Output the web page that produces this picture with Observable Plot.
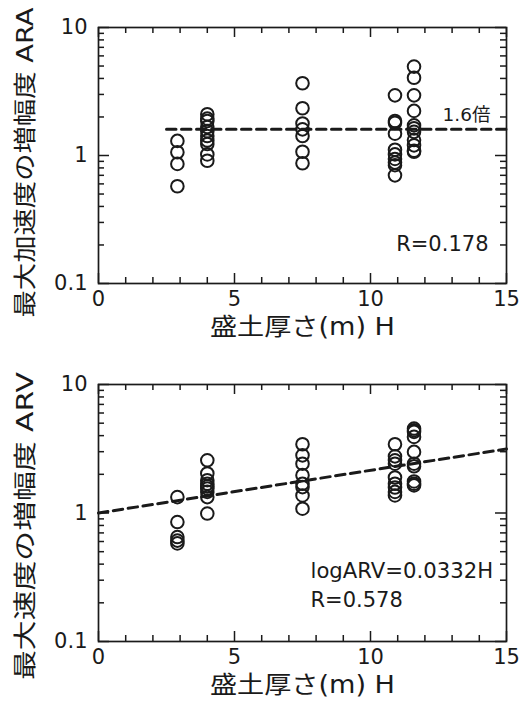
<!DOCTYPE html>
<html><head><meta charset="utf-8">
<script src="https://cdn.jsdelivr.net/npm/d3@7"></script>
<script src="https://cdn.jsdelivr.net/npm/@observablehq/plot@0.6"></script>
<style>body{margin:0;background:#fff;} #c svg{display:block;}</style>
</head><body><div id="c"></div>
<script>
// ---- data ----
const depthH = [2.9, 4.0, 7.5, 10.9, 11.6];
const araGroups = [
  [1.30, 1.06, 0.86, 0.575],
  [2.10, 1.94, 1.86, 1.67, 1.55, 1.42, 1.31, 1.23, 1.02, 0.91],
  [3.67, 2.34, 1.78, 1.60, 1.42, 1.07, 0.87],
  [2.95, 1.86, 1.80, 1.48, 1.11, 1.02, 0.94, 0.88, 0.84, 0.70],
  [4.95, 4.05, 2.95, 2.23, 1.72, 1.63, 1.53, 1.32, 1.20, 1.09, 1.07]
];
const arvGroups = [
  [1.33, 0.85, 0.65, 0.61, 0.58],
  [2.57, 2.03, 1.80, 1.69, 1.61, 1.55, 1.46, 1.33, 0.99],
  [3.43, 2.81, 2.42, 1.97, 1.69, 1.59, 1.37, 1.08],
  [3.43, 2.76, 2.57, 2.42, 1.89, 1.69, 1.58, 1.46, 1.37],
  [4.54, 4.41, 4.28, 3.91, 2.99, 2.42, 2.31, 1.76, 1.69, 1.64]
];
const araLineH = [2.5, 15];
const araLineV = [1.6, 1.6];
const arvLineH = [0, 15];
const arvLineV = [1.0, 3.15];
const xMajor = [0, 5, 10, 15];
const xMinor = [1,2,3,4,6,7,8,9,11,12,13,14];
const xTickLabels = ["0", "5", "10", "15"];
const yMajor = [0.1, 1, 10];
const yMinor = [0.2,0.3,0.4,0.5,0.6,0.7,0.8,0.9,2,3,4,5,6,7,8,9];
const yTickLabels = ["0.1", "1", "10"];
const xLabel = "盛土厚さ(m) H";
const araLabel = "最大加速度の増幅度 ARA";
const arvLabel = "最大速度の増幅度 ARV";

const FONT = "'DejaVu Sans', 'Noto Sans CJK JP', sans-serif";
const INK = "#1a1a1a";
const W = 527, ML = 98, MR = 21;

function panel({groups, lineH, lineV, yLabel, height, marginTop, marginBottom, yLabelDy, notes, yLabelLen}) {
  const pts = groups.flatMap((g, i) => g.map(v => ({H: depthH[i], v})));
  const line = lineH.map((h, i) => ({H: h, v: lineV[i]}));
  const fw = W - ML - MR, fh = height - marginTop - marginBottom;
  const tk = {stroke: INK, strokeWidth: 1.5};
  const svg = Plot.plot({
    width: W, height, marginTop, marginBottom, marginLeft: ML, marginRight: MR,
    style: {fontFamily: FONT, color: INK, background: "#fff", overflow: "visible", fontSize: "21px"},
    x: {domain: [0, 15], axis: "bottom", label: null, ticks: xMajor, tickSize: 0, tickPadding: 8,
        tickFormat: d => xTickLabels[xMajor.indexOf(d)]},
    y: {type: "log", domain: [0.1, 10], axis: "left", label: null, ticks: yMajor, tickSize: 0, tickPadding: 11,
        tickFormat: d => yTickLabels[yMajor.indexOf(d)]},
    marks: [
      Plot.line(line, {x: "H", y: "v", stroke: INK, strokeWidth: 3, strokeDasharray: "9.5,5.5"}),
      Plot.dot(pts, {x: "H", y: "v", r: 6.3, stroke: INK, strokeWidth: 2, fill: "none"}),
      Plot.tickX(xMajor, {x: d => d, insetTop: fh - 10, ...tk}),
      Plot.tickX(xMajor, {x: d => d, insetBottom: fh - 10, ...tk}),
      Plot.tickX(xMinor, {x: d => d, insetTop: fh - 6, ...tk}),
      Plot.tickX(xMinor, {x: d => d, insetBottom: fh - 6, ...tk}),
      Plot.tickY(yMajor, {y: d => d, insetRight: fw - 11, ...tk}),
      Plot.tickY(yMajor, {y: d => d, insetLeft: fw - 11, ...tk}),
      Plot.tickY(yMinor, {y: d => d, insetRight: fw - 6, ...tk}),
      Plot.tickY(yMinor, {y: d => d, insetLeft: fw - 6, ...tk}),
      Plot.frame({stroke: INK, strokeWidth: 1.7}),
      Plot.text([xLabel], {text: d => d, frameAnchor: "bottom", textAnchor: "middle", dy: 51, fontSize: 24, fill: INK}),
      Plot.text([yLabel], {text: d => d, frameAnchor: "left", textAnchor: "middle", dx: -73, dy: yLabelDy,
        rotate: -90, fontSize: 23, fill: INK}),
      ...notes.map(n => Plot.text([n.text], {text: d => d, frameAnchor: n.anchor, dx: n.dx, dy: n.dy,
        textAnchor: n.textAnchor, fontSize: n.size, fill: INK}))
    ]
  });
  d3.select(svg).selectAll("text").each(function() {
    if (this.textContent === xLabel) { this.setAttribute("textLength", 185); this.setAttribute("lengthAdjust", "spacingAndGlyphs"); }
    if (this.textContent === yLabel) { this.setAttribute("textLength", yLabelLen); this.setAttribute("lengthAdjust", "spacingAndGlyphs"); }
  });
  return svg;
}

const c = document.getElementById("c");
c.appendChild(panel({
  groups: araGroups, lineH: araLineH, lineV: araLineV, yLabel: araLabel,
  height: 350, marginTop: 27, marginBottom: 67, yLabelDy: 7, yLabelLen: 310,
  notes: [
    {text: "1.6倍", anchor: "top-right", dx: -16, dy: 80, textAnchor: "end", size: 18.5},
    {text: "R=0.178", anchor: "bottom-right", dx: -18, dy: -33, textAnchor: "end", size: 21}
  ]
}));
c.appendChild(panel({
  groups: arvGroups, lineH: arvLineH, lineV: arvLineV, yLabel: arvLabel,
  height: 357, marginTop: 34, marginBottom: 66, yLabelDy: 13, yLabelLen: 308,
  notes: [
    {text: "logARV=0.0332H", anchor: "bottom-left", dx: 212, dy: -64, textAnchor: "start", size: 21.2},
    {text: "R=0.578", anchor: "bottom-left", dx: 212, dy: -35, textAnchor: "start", size: 21}
  ]
}));
</script>
</body></html>
